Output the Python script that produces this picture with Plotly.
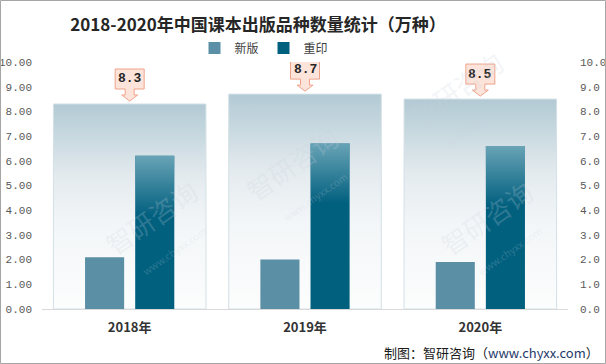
import plotly.graph_objects as go

categories = ["2018年", "2019年", "2020年"]
new_ed = [2.1, 2.0, 1.9]      # 新版
reprint = [6.2, 6.7, 6.6]     # 重印
totals = [8.3, 8.7, 8.5]
series_names = ["新版", "重印"]
left_ticks = [0, 1, 2, 3, 4, 5, 6, 7, 8, 9, 10]

W, H = 606, 364
L, R, T, B = 42, 38, 62, 55
pw, ph = W - L - R, H - T - B

BG_W = 0.87
BAR_W = 0.223
OFF_NEW = -0.2545
OFF_RE = 0.0315

fig = go.Figure()

# background total bars (gradient) on main subplot
for i, tot in enumerate(totals):
    x0, x1 = i - BG_W / 2, i + BG_W / 2
    fig.add_trace(go.Scatter(
        x=[x0, x1, x1, x0, x0], y=[0, 0, tot, tot, 0],
        mode="lines", fill="toself",
        line=dict(color="#d3e0e6", width=1),
        fillgradient=dict(type="vertical",
                          colorscale=[[0, "#fcfdfd"], [0.4, "#f3f6f8"],
                                      [0.65, "#e3eaee"], [1, "#b2cad4"]]),
        showlegend=False, hoverinfo="skip", xaxis="x", yaxis="y"))

# bars on overlay subplot
fig.add_trace(go.Bar(
    x=list(range(len(categories))), y=new_ed, name=series_names[0],
    width=BAR_W, offset=OFF_NEW, marker=dict(color="#5b8fa6", line=dict(width=0)),
    xaxis="x", yaxis="y2"))
fig.add_trace(go.Bar(
    x=list(range(len(categories))), y=reprint, name=series_names[1],
    width=BAR_W, offset=OFF_RE, marker=dict(color="#02607f", line=dict(width=0)),
    xaxis="x", yaxis="y2"))

# lighter gradient at top of 重印 bars
for i, v in enumerate(reprint):
    x0, x1 = i + OFF_RE, i + OFF_RE + BAR_W
    y0 = v - 2.4
    fig.add_trace(go.Scatter(
        x=[x0, x1, x1, x0, x0], y=[y0, y0, v, v, y0],
        mode="lines", fill="toself", line=dict(width=0, color="rgba(0,0,0,0)"),
        fillgradient=dict(type="vertical",
                          colorscale=[[0, "rgba(130,180,196,0)"], [1, "rgba(130,180,196,0.8)"]]),
        showlegend=False, hoverinfo="skip", xaxis="x", yaxis="y2"))

# callouts
callout = "M0,3 L8,9 L4.5,9 L4.5,15 L14.5,15 L14.5,35 L-14.5,35 L-14.5,15 L-4.5,15 L-4.5,9 L-8,9 Z"
for i, tot in enumerate(totals):
    fig.add_shape(type="path", xref="x", yref="y", xsizemode="pixel", ysizemode="pixel",
                  xanchor=i, yanchor=tot, path=callout,
                  fillcolor="#fde4da", line=dict(color="#f0a38b", width=1))
    fig.add_annotation(x=i, y=tot, xref="x", yref="y", text=f"<b>{tot:.1f}</b>",
                       showarrow=False, yshift=25,
                       font=dict(family="Liberation Mono", size=13, color="#262626"))

# watermarks
for (px, py) in [(95, 290), (300, 175), (530, 40), (560, 290)]:
    fig.add_annotation(x=(px - L) / pw, y=(H - B - py) / ph, xref="paper", yref="paper",
                       text="智研咨询<br><span style='font-size:10px'>www.chyxx.com</span>",
                       textangle=-35, showarrow=False,
                       font=dict(family="Noto Sans CJK SC", size=26, color="rgba(200,210,222,0.22)"))

# source
fig.add_annotation(x=(601 - L) / pw, y=-(352 - (H - B)) / ph, xref="paper", yref="paper",
                   xanchor="right", yanchor="middle", showarrow=False,
                   text="制图：智研咨询（<span style='color:#1f3a6b'>www.chyxx.com</span>）",
                   font=dict(family="Noto Sans CJK SC", size=13, color="#1a1a1a"))

# border
fig.add_shape(type="rect", xref="paper", yref="paper",
              x0=(0.5 - L) / pw, x1=(W - 0.5 - L) / pw,
              y0=-(B - 0.5) / ph, y1=1 + (T - 0.5) / ph,
              line=dict(color="#a6a6a6", width=1), fillcolor="rgba(0,0,0,0)", layer="above")

fig.update_layout(
    width=W, height=H, margin=dict(l=L, r=R, t=T, b=B, autoexpand=False),
    paper_bgcolor="white", plot_bgcolor="white",
    barmode="overlay",
    title=dict(text="<b>2018-2020年中国课本出版品种数量统计（万种）</b>",
               x=258 / W, xanchor="center", y=1 - 25 / H, yanchor="middle",
               font=dict(family="Noto Sans CJK SC", size=17, color="#262626")),
    legend=dict(orientation="h", x=(264 - L) / pw, xanchor="center",
                y=1 + (T - 48) / ph, yanchor="middle",
                font=dict(family="Noto Sans CJK SC", size=12, color="#404040"),
                bgcolor="rgba(0,0,0,0)", itemwidth=30, tracegroupgap=0),
    xaxis=dict(range=[-0.5, 2.5], tickvals=[0, 1, 2], ticktext=[f"<b>{c}</b>" for c in categories],
               showgrid=False, zeroline=False, showline=True, linecolor="#d9d9d9",
               ticks="", ticklabelstandoff=6, automargin=False,
               tickfont=dict(family="Noto Sans CJK SC", size=13, color="#333333")),
    yaxis=dict(range=[0, 10], tickvals=left_ticks, tickformat=".2f",
               showgrid=False, zeroline=False, showline=False, ticks="",
               ticklabelstandoff=9, automargin=False,
               tickfont=dict(family="Liberation Mono", size=11, color="#595959")),
    yaxis2=dict(range=[0, 10], tickvals=left_ticks, tickformat=".1f", overlaying="y", side="right",
                showgrid=False, zeroline=False, showline=False, ticks="",
                ticklabelstandoff=11, automargin=False,
                tickfont=dict(family="Liberation Mono", size=11, color="#595959")),
    showlegend=True,
)

fig.write_html("out.html", config={"displayModeBar": False},
               post_script="document.body.style.margin='0';")
